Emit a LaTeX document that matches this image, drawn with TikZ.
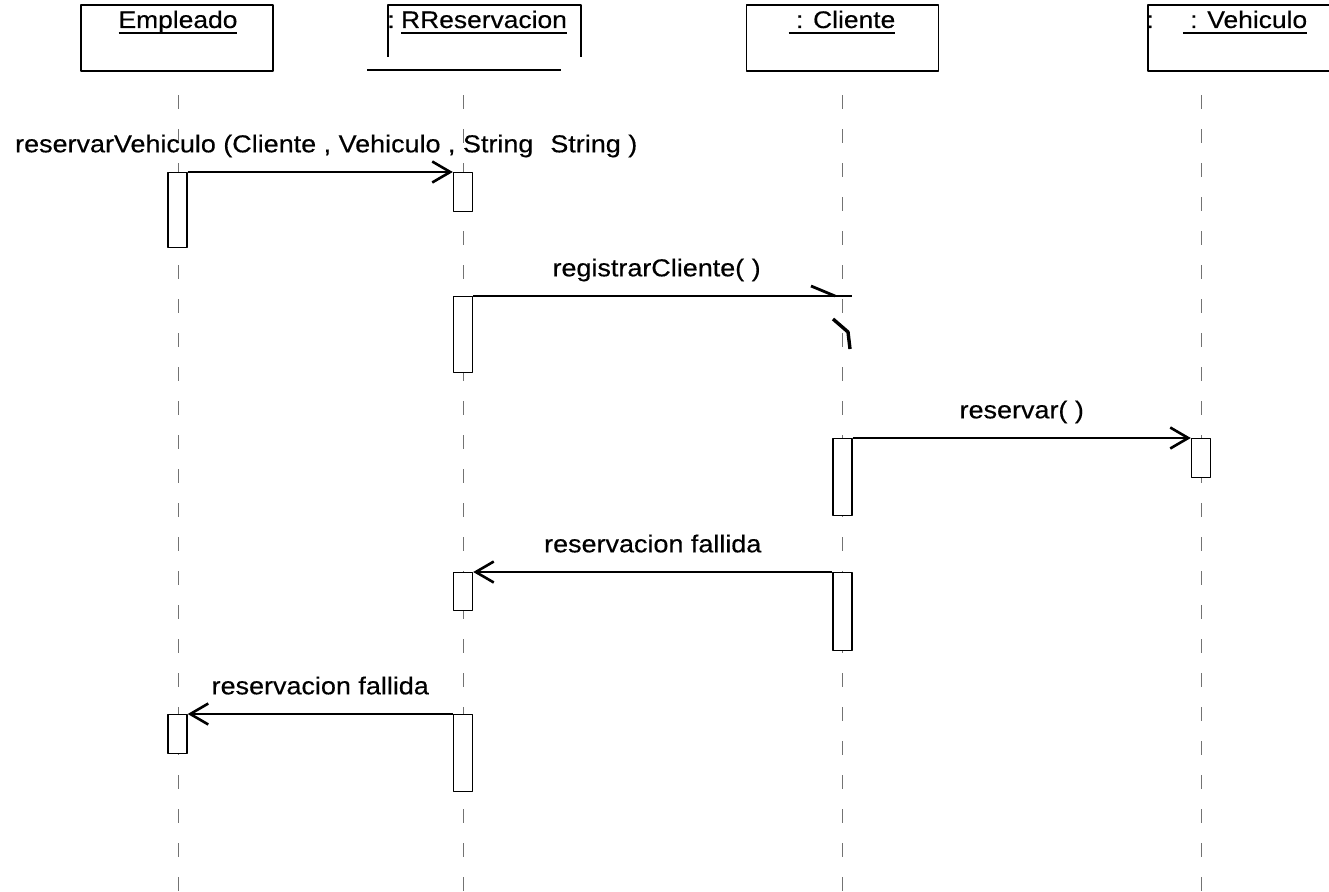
\documentclass[tikz,border=0pt]{standalone}
\usepackage{fontspec}
\setmainfont{Liberation Sans}[FakeStretch=1.1,FakeBold=0.4]
\usetikzlibrary{arrows.meta}
\newsavebox{\namebox}
\newcommand{\objname}[1]{\sbox\namebox{#1}\rlap{\rule[-6pt]{\wd\namebox}{1.8pt}}\usebox\namebox}

\begin{document}
\begin{tikzpicture}[line join=round,x=1pt,y=-1pt,
	obj/.style={draw,line width=1.4pt,minimum width=192pt,minimum height=66pt,inner sep=0pt},
	objtext/.style={anchor=base,inner sep=0pt,font=\fontsize{24}{28}\selectfont},
	life/.style={line width=1pt,color=black!55,dash pattern=on 14pt off 20pt},
	act/.style={draw,fill=white,line width=1.4pt,minimum width=19pt,inner sep=0pt,anchor=north},
	msg/.style={line width=1.4pt,-{Straight Barb[length=18pt,width=21pt,line width=2.6pt]}},
	msgtext/.style={midway,above=19pt,inner sep=0pt,text depth=0pt,font=\fontsize{24.5}{28}\selectfont}]
		\useasboundingbox (0,0) rectangle (1329,891);
		\clip (0,0) rectangle (1329,891);
		\draw[life] (178,95) -- (178,891);
		\draw[life] (463,95) -- (463,891);
		\draw[life] (842,95) -- (842,891);
		\draw[life] (1201,95) -- (1201,891);
		\node[obj] (emp) at (177,38) {};
			\node[objtext] (empname) at (178,28) {\objname{Empleado}};
		\draw[line width=1.4pt] (388,57) |- (581,5) -- (581,57);
		\draw[line width=1.4pt] (367,70) -- (561,70);
			\node[objtext] (resname) at (484,28) {\objname{RReservacion}};
			\node[objtext] (rescolon) at (391,28) {:};
		\node[obj] (cli) at (842.5,38) {};
			\node[objtext] (cliname) at (842,28) {\objname{\ : Cliente}};
		\node[obj] (veh) at (1244,38) {};
			\node[objtext] (vehname) at (1245,28) {\objname{\ : Vehiculo}};
			\node[objtext] (vehcolon) at (1150,28) {:};
		\node[act,minimum height=75pt] (e1) at (177.5,172) {};
		\node[act,minimum height=39pt] (r1) at (463,172) {};
		\node[act,minimum height=76pt] (r2) at (463,296) {};
		\node[act,minimum height=77pt] (c1) at (842.5,438) {};
		\node[act,minimum height=39pt] (v1) at (1201,438) {};
		\node[act,minimum height=38pt] (r3) at (463,572) {};
		\node[act,minimum height=78pt] (c2) at (842.5,572) {};
		\node[act,minimum height=39pt] (e2) at (177.5,714) {};
		\node[act,minimum height=77pt] (r4) at (463,714) {};
		\draw[msg] (e1.north east) -- (r1.north west)
			node[msgtext,xshift=6pt] {reservarVehiculo (Cliente , Vehiculo , String\hspace{17pt}String )};
		\coordinate (clitip) at (852,296);
		\draw[line width=1.4pt] (r2.north east) -- (clitip)
			node[msgtext,xshift=-6pt] {registrarCliente( )};
		\draw[line width=2.8pt] (811,286) -- (835,296);
		\draw[line width=3.4pt] (833,319) -- (848,332) -- (850,349);
		\draw[msg] (c1.north east) -- (v1.north west)
			node[msgtext] {reservar( )};
		\draw[msg] (c2.north west) -- (r3.north east)
			node[msgtext] {reservacion fallida};
		\draw[msg] (r4.north west) -- (e2.north east)
			node[msgtext] {reservacion fallida};
	\end{tikzpicture}
\end{document}
